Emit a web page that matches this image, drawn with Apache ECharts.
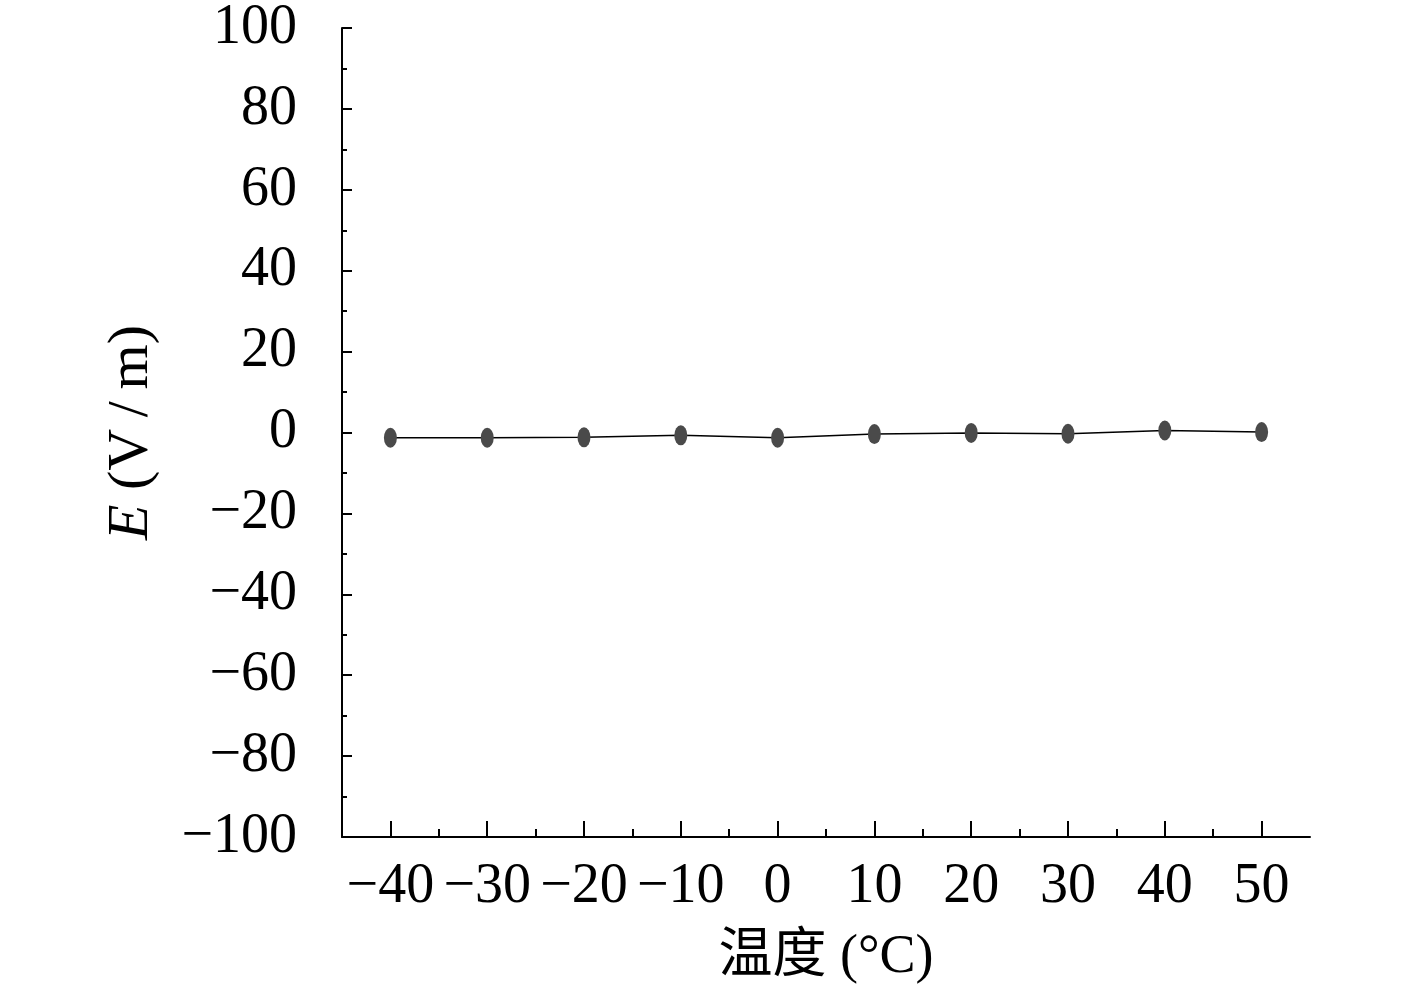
<!DOCTYPE html>
<html><head><meta charset="utf-8">
<script src="https://cdn.jsdelivr.net/npm/echarts@6/dist/echarts.min.js"></script>
<style>html,body{margin:0;padding:0;background:#fff}#c{width:1417px;height:992px}</style>
</head><body><div id="c"></div>
<script>
var temps = [-40, -30, -20, -10, 0, 10, 20, 30, 40, 50];
var fieldE = [-1.3, -1.3, -1.2, -0.7, -1.3, -0.4, -0.1, -0.3, 0.5, 0.1];
var xMajor = [-40, -30, -20, -10, 0, 10, 20, 30, 40, 50];
var xMinor = [-35, -25, -15, -5, 5, 15, 25, 35, 45];
var font = '"Liberation Serif", "DejaVu Serif", serif';
function fmt(v){ return v < 0 ? '\u2212' + Math.abs(v) : String(v); }
var chart = echarts.init(document.getElementById('c'));
chart.setOption({
  backgroundColor: '#fff',
  animation: false,
  grid: {left: 342, right: 107, top: 28, bottom: 155},
  xAxis: [{
    type: 'value', min: -45, max: 55,
    axisLine: {onZero: false, lineStyle: {color: '#000', width: 2}},
    axisTick: {inside: true, length: 16, lineStyle: {color: '#000', width: 2}, customValues: xMajor},
    axisLabel: {customValues: xMajor, formatter: fmt, color: '#000', fontFamily: font, fontSize: 56, margin: 22},
    splitLine: {show: false},
    name: '温度 (°C)', nameLocation: 'middle', nameGap: 94,
    nameTextStyle: {color: '#000', fontFamily: '"Liberation Serif", "Noto Sans CJK SC", serif', fontSize: 54}
  }, {
    type: 'value', min: -45, max: 55, position: 'bottom',
    axisLine: {show: false, onZero: false},
    axisTick: {inside: true, length: 8, lineStyle: {color: '#000', width: 2}, customValues: xMinor},
    axisLabel: {show: false},
    splitLine: {show: false}
  }],
  yAxis: {
    type: 'value', min: -100, max: 100, interval: 20,
    axisLine: {onZero: false, lineStyle: {color: '#000', width: 2}},
    axisTick: {inside: true, length: 10, lineStyle: {color: '#000', width: 2}},
    minorTick: {show: true, splitNumber: 2, length: 5, lineStyle: {color: '#000', width: 2}},
    axisLabel: {formatter: fmt, color: '#000', fontFamily: font, fontSize: 56, margin: 45},
    splitLine: {show: false},
    name: '{i|E} (V\u2009/\u2009m)', nameLocation: 'middle', nameGap: 181, nameRotate: 90,
    nameTextStyle: {color: '#000', fontFamily: font, fontSize: 58,
      rich: {i: {fontStyle: 'italic', fontFamily: font, fontSize: 58, color: '#000'}}}
  },
  series: [{
    type: 'line', xAxisIndex: 0,
    data: temps.map(function(t, i){ return [t, fieldE[i]]; }),
    symbol: 'circle', symbolSize: [13, 20],
    itemStyle: {color: '#4a4a4a'},
    lineStyle: {color: '#000', width: 1.5}
  }]
});
</script></body></html>
